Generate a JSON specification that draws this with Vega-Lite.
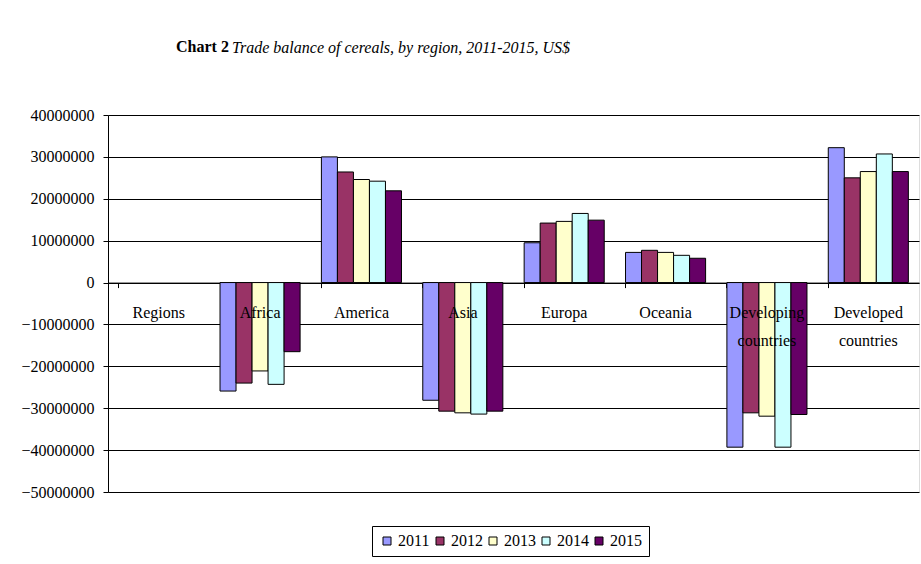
{
  "$schema": "https://vega.github.io/schema/vega-lite/v6.json",
  "width": 811,
  "height": 377,
  "autosize": "none",
  "padding": {"left": 108, "top": 115, "right": 2, "bottom": 72},
  "background": "white",
  "config": {"font": "Liberation Serif"},
  "title": {
    "text": "Chart 2",
    "subtitle": "\u200b\u00a0\u00a0\u00a0\u00a0\u00a0\u00a0\u00a0\u00a0\u00a0\u00a0\u00a0\u00a0\u00a0\u00a0Trade balance of cereals, by region, 2011-2015, US$",
    "anchor": "start",
    "frame": "group",
    "dx": 68,
    "offset": 51,
    "font": "Liberation Serif",
    "fontSize": 16,
    "fontWeight": "bold",
    "color": "black",
    "subtitleFont": "Liberation Serif",
    "subtitleFontSize": 16,
    "subtitleFontStyle": "italic",
    "subtitleColor": "black",
    "subtitlePadding": -15
  },
  "datasets": {
    "trade": [
      {"region": "Africa", "year": "2011", "value": -25900000},
      {"region": "Africa", "year": "2012", "value": -24000000},
      {"region": "Africa", "year": "2013", "value": -21100000},
      {"region": "Africa", "year": "2014", "value": -24300000},
      {"region": "Africa", "year": "2015", "value": -16500000},
      {"region": "America", "year": "2011", "value": 30000000},
      {"region": "America", "year": "2012", "value": 26400000},
      {"region": "America", "year": "2013", "value": 24600000},
      {"region": "America", "year": "2014", "value": 24200000},
      {"region": "America", "year": "2015", "value": 21900000},
      {"region": "Asia", "year": "2011", "value": -28100000},
      {"region": "Asia", "year": "2012", "value": -30700000},
      {"region": "Asia", "year": "2013", "value": -31100000},
      {"region": "Asia", "year": "2014", "value": -31400000},
      {"region": "Asia", "year": "2015", "value": -30700000},
      {"region": "Europa", "year": "2011", "value": 9500000},
      {"region": "Europa", "year": "2012", "value": 14200000},
      {"region": "Europa", "year": "2013", "value": 14600000},
      {"region": "Europa", "year": "2014", "value": 16500000},
      {"region": "Europa", "year": "2015", "value": 14900000},
      {"region": "Oceania", "year": "2011", "value": 7200000},
      {"region": "Oceania", "year": "2012", "value": 7700000},
      {"region": "Oceania", "year": "2013", "value": 7200000},
      {"region": "Oceania", "year": "2014", "value": 6500000},
      {"region": "Oceania", "year": "2015", "value": 5800000},
      {"region": "Developing countries", "year": "2011", "value": -39300000},
      {"region": "Developing countries", "year": "2012", "value": -31100000},
      {"region": "Developing countries", "year": "2013", "value": -31900000},
      {"region": "Developing countries", "year": "2014", "value": -39300000},
      {"region": "Developing countries", "year": "2015", "value": -31500000},
      {"region": "Developed countries", "year": "2011", "value": 32200000},
      {"region": "Developed countries", "year": "2012", "value": 25000000},
      {"region": "Developed countries", "year": "2013", "value": 26500000},
      {"region": "Developed countries", "year": "2014", "value": 30700000},
      {"region": "Developed countries", "year": "2015", "value": 26500000}
    ],
    "regions": [
      {"region": "Regions"},
      {"region": "Africa"},
      {"region": "America"},
      {"region": "Asia"},
      {"region": "Europa"},
      {"region": "Oceania"},
      {"region": "Developing countries"},
      {"region": "Developed countries"}
    ]
  },
  "layer": [
    {
      "data": {"name": "trade"},
      "mark": {"type": "bar", "stroke": "black", "strokeWidth": 1},
      "encoding": {
        "x": {
          "field": "region",
          "type": "nominal",
          "scale": {
            "domain": ["Regions", "Africa", "America", "Asia", "Europa", "Oceania", "Developing countries", "Developed countries"],
            "paddingInner": 0.21,
            "paddingOuter": 0.105
          },
          "axis": {
            "orient": "bottom",
            "offset": -209.4,
            "labels": false,
            "title": null,
            "bandPosition": 0,
            "tickSize": 5,
            "tickColor": "black",
            "domainColor": "black",
            "grid": false
          }
        },
        "xOffset": {
          "field": "year",
          "type": "nominal",
          "scale": {"paddingInner": 0, "paddingOuter": 0}
        },
        "y": {
          "field": "value",
          "type": "quantitative",
          "scale": {"domain": [-50000000, 40000000], "nice": false, "zero": false},
          "axis": {
            "title": null,
            "values": [-50000000, -40000000, -30000000, -20000000, -10000000, 0, 10000000, 20000000, 30000000, 40000000],
            "format": "d",
            "labelFont": "Liberation Serif",
            "labelFontSize": 16,
            "labelColor": "black",
            "labelPadding": 9,
            "tickSize": 5,
            "tickColor": "black",
            "domainColor": "black",
            "gridColor": "black",
            "gridWidth": 1,
            "gridOpacity": 1
          }
        },
        "color": {
          "field": "year",
          "type": "nominal",
          "scale": {
            "domain": ["2011", "2012", "2013", "2014", "2015"],
            "range": ["#9999FF", "#993366", "#FFFFCC", "#CCFFFF", "#660066"]
          },
          "legend": {
            "orient": "none",
            "legendX": 264,
            "legendY": 411,
            "direction": "horizontal",
            "columns": 5,
            "title": null,
            "symbolType": "square",
            "symbolSize": 64,
            "symbolStrokeColor": "black",
            "symbolStrokeWidth": 1,
            "symbolOpacity": 1,
            "labelFont": "Liberation Serif",
            "labelFontSize": 16,
            "labelColor": "black",
            "labelOffset": 3,
            "columnPadding": 2,
            "padding": 7,
            "strokeColor": "black",
            "fillColor": "white"
          }
        }
      }
    },
    {
      "data": {"name": "regions"},
      "mark": {
        "type": "text",
        "font": "Liberation Serif",
        "fontSize": 16,
        "color": "black",
        "baseline": "top",
        "dy": 22,
        "lineBreak": " ",
        "lineHeight": 28
      },
      "encoding": {
        "x": {"field": "region", "type": "nominal"},
        "y": {"datum": 0},
        "text": {"field": "region"}
      }
    }
  ]
}
